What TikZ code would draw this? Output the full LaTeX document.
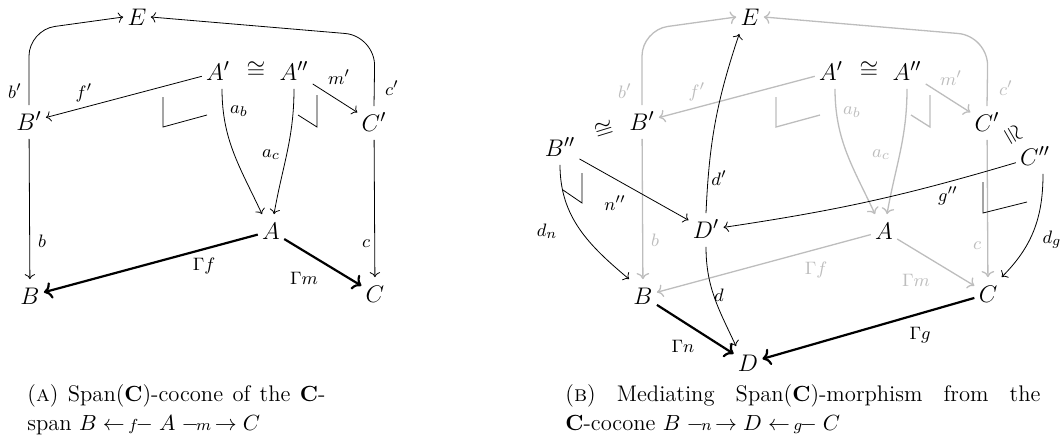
\documentclass[tikz,border=0pt]{standalone}
\usepackage{amsmath,amssymb}
\usetikzlibrary{arrows.meta}
\definecolor{ghost}{gray}{0.74}
\newcommand{\larrl}[1]{\mathrel{\leftarrow\mkern-2mu{\scriptstyle #1}\mkern-2mu-}}
\newcommand{\rarrl}[1]{\mathrel{-\mkern-2mu{\scriptstyle #1}\mkern-2mu\rightarrow}}
\begin{document}
\begin{tikzpicture}[x=0.5pt,y=-0.5pt,
  obj/.style={font=\fontsize{12.5}{15}\selectfont, inner xsep=2pt, inner ysep=4pt, text height=8.5pt, text depth=0pt},
  isosym/.style={font=\fontsize{12}{15}\selectfont, inner sep=0pt},
  lbl/.style={font=\fontsize{9.5}{11}\selectfont, inner sep=0pt},
  captext/.style={font=\fontsize{11.3}{14}\selectfont, inner sep=0pt, anchor=base west},
  arr/.style={->, line width=0.4pt},
  thickarr/.style={->, line width=1.1pt},
  garr/.style={->, line width=0.65pt, draw=ghost},
  glbl/.style={lbl, text=ghost},
  pbcorner/.style={line width=0.4pt},
  gpbcorner/.style={line width=0.65pt, draw=ghost}
]
\useasboundingbox (0,0) rectangle (1063,447);

% ---------------- left diagram ----------------
\node[obj] (E) at (137,17) {$E$};
\node[obj] (Ap) at (218,72) {$A'$};
\node[isosym] (iso) at (256,70) {$\cong$};
\node[obj] (App) at (294,72) {$A''$};
\node[obj] (Bp) at (29,122) {$B'$};
\node[obj] (Cp) at (374,123) {$C'$};
\node[obj] (A) at (271,231) {$A$};
\node[obj] (B) at (30,296) {$B$};
\node[obj] (C) at (375,294) {$C$};

\draw[arr, rounded corners=13pt] (Bp.north) -- (29,30) -- (E.west);
\draw[arr, rounded corners=15pt] (Cp.north) -- (375,36) -- (E.east);
\draw[arr] (Ap) -- (Bp);
\draw[arr] (App) -- (Cp);
\draw[arr] ([xshift=2pt]Ap.south) to[out=-90,in=115] ([xshift=-4.5pt]A.north);
\draw[arr] (App.south) to[out=-90,in=80] ([xshift=1.5pt]A.north);
\draw[arr] (Bp) -- (B);
\draw[arr] (Cp) -- (C);
\draw[thickarr] (A) -- (B);
\draw[thickarr] (A) -- (C);
\draw[pbcorner] (163,97) -- (163,127) -- (207,115);
\draw[pbcorner] (298,115) -- (317,127) -- (317,95);

\node[lbl] (lbp) at (15,91) {$b'$};
\node[lbl] (lfp) at (84,93) {$f'$};
\node[lbl] (lmp) at (339,77) {$m'$};
\node[lbl] (lcp) at (392,88) {$c'$};
\node[lbl] (lab) at (239,111) {$a_b$};
\node[lbl] (lac) at (271,155) {$a_c$};
\node[lbl] (lb) at (42,241) {$b$};
\node[lbl] (lc) at (366,244) {$c$};
\node[lbl] (lGf) at (204,266) {$\Gamma f$};
\node[lbl] (lGm) at (304,278) {$\Gamma m$};

% ---------------- right diagram ----------------
\begin{scope}[shift={(613,0)}]
\node[obj] (rE) at (137,17) {$E$};
\node[obj] (rAp) at (218,72) {$A'$};
\node[isosym] (riso) at (256,70) {$\cong$};
\node[obj] (rApp) at (294,72) {$A''$};
\node[obj] (rBp) at (29,122) {$B'$};
\node[obj] (rCp) at (374,123) {$C'$};
\node[obj] (rA) at (271,231) {$A$};
\node[obj] (rB) at (30,296) {$B$};
\node[obj] (rC) at (375,294) {$C$};

\draw[garr, rounded corners=13pt] (rBp.north) -- (29,30) -- (rE.west);
\draw[garr, rounded corners=15pt] (rCp.north) -- (375,36) -- (rE.east);
\draw[garr] (rAp) -- (rBp);
\draw[garr] (rApp) -- (rCp);
\draw[garr] ([xshift=2pt]rAp.south) to[out=-90,in=115] ([xshift=-4.5pt]rA.north);
\draw[garr] (rApp.south) to[out=-90,in=80] ([xshift=1.5pt]rA.north);
\draw[garr] (rBp) -- (rB);
\draw[garr] (rCp) -- (rC);
\draw[garr] (rA) -- (rB);
\draw[garr] (rA) -- (rC);
\draw[gpbcorner] (163,97) -- (163,127) -- (207,115);
\draw[gpbcorner] (298,115) -- (317,127) -- (317,95);

\node[glbl] (rlbp) at (12,91) {$b'$};
\node[glbl] (rlfp) at (84,92) {$f'$};
\node[glbl] (rlmp) at (338,78) {$m'$};
\node[glbl] (rlcp) at (393,88) {$c'$};
\node[glbl] (rlab) at (239,112) {$a_b$};
\node[glbl] (rlac) at (268,155) {$a_c$};
\node[glbl] (rlb) at (42,240) {$b$};
\node[glbl] (rlc) at (364,246) {$c$};
\node[glbl] (rlGf) at (203,270) {$\Gamma f$};
\node[glbl] (rlGm) at (303,280) {$\Gamma m$};
\end{scope}

\node[obj] (Bpp) at (560,148) {$B''$};
\node[obj] (Cpp) at (1035,157) {$C''$};
\node[obj] (Dp) at (706,230) {$D'$};
\node[obj] (D) at (748,363) {$D$};
\node[isosym, rotate=17] (isoB) at (604,130) {$\cong$};
\node[isosym, rotate=-60] (isoC) at (1012,135) {$\cong$};

\draw[arr] (Bpp) -- (Dp);
\draw[arr] (Cpp) to[bend left=4] (Dp);
\draw[arr] (Dp.north) to[bend left=8] ([xshift=1.5pt]rE.south west);
\draw[arr] (Dp.south) to[out=-90,in=115] ([xshift=-6pt]D.north);
\draw[arr] (Bpp.south) to[out=-90,in=140] (rB.north west);
\draw[arr] ([xshift=4pt]Cpp.south) to[out=-90,in=45] (rC.north east);
\draw[thickarr] (rB) -- (D);
\draw[thickarr] (rC) -- (D);
\draw[pbcorner] (563,190) -- (582,203) -- (582,173);
\draw[pbcorner] (983,182) -- (983,213) -- (1027,202);

\node[lbl] (lnpp) at (615,203) {$n''$};
\node[lbl] (lgpp) at (948,196) {$g''$};
\node[lbl] (ldp) at (719,178) {$d'$};
\node[lbl] (ld) at (719,295) {$d$};
\node[lbl] (ldn) at (547,231) {$d_n$};
\node[lbl] (ldg) at (1052,240) {$d_g$};
\node[lbl] (lGn) at (683,346) {$\Gamma n$};
\node[lbl] (lGg) at (920,335) {$\Gamma g$};

% ---------------- captions ----------------
\node[captext] (capA1) at (27,401) {\makebox[149pt][s]{(\textsc{a}) Span($\mathbf{C}$)-cocone of the $\mathbf{C}$-}};
\node[captext] (capA2) at (27,430) {span $B \larrl{f} A \rarrl{m} C$};
\node[captext] (capB1) at (565,401) {\makebox[237.5pt][s]{(\textsc{b}) Mediating Span($\mathbf{C}$)-morphism from the}};
\node[captext] (capB2) at (565,430) {$\mathbf{C}$-cocone $B \rarrl{n} D \larrl{g} C$};
\end{tikzpicture}
\end{document}
